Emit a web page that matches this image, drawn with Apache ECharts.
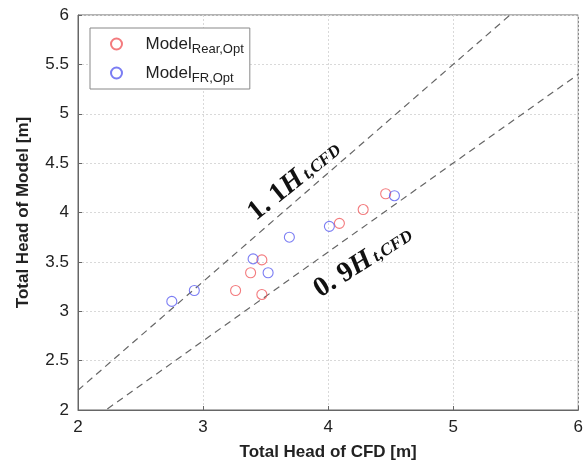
<!DOCTYPE html>
<html>
<head>
<meta charset="utf-8">
<script src="https://cdn.jsdelivr.net/npm/echarts@6/dist/echarts.min.js"></script>
<style>
  html, body { margin: 0; padding: 0; background: #fff; }
  #chart { width: 586px; height: 470px; }
</style>
</head>
<body>
<div id="chart"></div>
<script>
// Total head: CFD prediction (x) vs. model (y)
const rearOpt = [
  [3.26, 3.21], [3.47, 3.17], [3.38, 3.39], [3.47, 3.52],
  [4.09, 3.89], [4.28, 4.03], [4.46, 4.19]
];
const frOpt = [
  [2.75, 3.10], [2.93, 3.21], [3.40, 3.53], [3.52, 3.39],
  [3.69, 3.75], [4.01, 3.86], [4.53, 4.17]
];
// ±10 % reference lines (H_model = 1.1 H_CFD and 0.9 H_CFD)
const upperBand = [[2, 2.2], [6, 6.6]];
const lowerBand = [[2, 1.8], [6, 5.4]];
const seriesNames = ['Rear,Opt', 'FR,Opt'];
const axisMin = 2, axisMax = 6;

const RED = '#f05a5e';
const BLUE = '#5a5cf0';
const LINE = '#666';

const chart = echarts.init(document.getElementById('chart'), null, { renderer: 'canvas' });

const axisCommon = {
  min: axisMin,
  max: axisMax,
  axisLine: { show: true, onZero: false, lineStyle: { color: LINE, width: 1 } },
  axisTick: { show: true, inside: true, length: 4, lineStyle: { color: LINE } },
  splitLine: { show: true, lineStyle: { color: '#d9d9d9', type: [2, 2], width: 1 } },
  axisLabel: { color: '#222', fontSize: 17, fontFamily: 'Liberation Sans, Arial, sans-serif' },
  nameLocation: 'middle',
  nameTextStyle: { color: '#222', fontSize: 17, fontWeight: 'bold', fontFamily: 'Liberation Sans, Arial, sans-serif' }
};

function scatter(name, data, color) {
  return {
    type: 'scatter',
    name: name,
    data: data,
    symbol: 'circle',
    symbolSize: 10,
    itemStyle: { color: 'rgba(255,255,255,0)', borderColor: color, borderWidth: 1.1 },
    z: 5
  };
}

function band(data) {
  return {
    type: 'line',
    data: data,
    showSymbol: false,
    symbol: 'none',
    clip: true,
    silent: true,
    lineStyle: { color: LINE, width: 1.2, type: [7, 5] },
    z: 3
  };
}

chart.setOption({
  animation: false,
  backgroundColor: '#fff',
  grid: { left: 78, right: 6, top: 15, bottom: 60, show: true, borderColor: LINE, borderWidth: 1 },
  xAxis: Object.assign({}, axisCommon, {
    type: 'value', interval: 1, name: 'Total Head of CFD [m]', nameGap: 34,
    axisLabel: Object.assign({}, axisCommon.axisLabel, { margin: 9 })
  }),
  yAxis: Object.assign({}, axisCommon, {
    type: 'value', interval: 0.5, name: 'Total Head of Model [m]', nameGap: 46,
    axisLabel: Object.assign({}, axisCommon.axisLabel, { margin: 9 })
  }),
  legend: {
    data: seriesNames,
    orient: 'vertical',
    left: 90,
    top: 28,
    backgroundColor: '#fff',
    borderColor: '#888',
    borderWidth: 1,
    borderRadius: 0,
    padding: [4, 6, 4, 20],
    itemGap: 5,
    itemWidth: 14,
    itemHeight: 11,
    formatter: function (n) { return '{m|Model}{s|' + n + '}'; },
    textStyle: {
      color: '#222',
      fontFamily: 'Liberation Sans, Arial, sans-serif',
      rich: {
        m: { fontSize: 17, lineHeight: 20, padding: [0, 0, 0, 17] },
        s: { fontSize: 13, lineHeight: 20, padding: [11, 0, 0, 0] }
      }
    }
  },
  series: [
    band(upperBand),
    band(lowerBand),
    scatter(seriesNames[0], rearOpt, RED),
    scatter(seriesNames[1], frOpt, BLUE)
  ]
});

// Rotated labels for the two reference lines
function bandLabel(coord, slope, lead, tilt) {
  const p = chart.convertToPixel({ gridIndex: 0 }, coord);
  const p0 = chart.convertToPixel({ gridIndex: 0 }, [3, 3 * slope]);
  const p1 = chart.convertToPixel({ gridIndex: 0 }, [4, 4 * slope]);
  const ang = Math.atan2(p0[1] - p1[1], p1[0] - p0[0]) - tilt * Math.PI / 180;
  const serif = 'Liberation Serif, Times New Roman, serif';
  return {
    type: 'text',
    x: p[0],
    y: p[1],
    rotation: ang,
    z: 10,
    style: {
      text: '{a|' + lead + '}{h|H}{s|t,CFD}',
      align: 'center',
      verticalAlign: 'middle',
      fill: '#111',
      rich: {
        a: { fontFamily: serif, fontWeight: 'bold', fontSize: 28, lineHeight: 30, fill: '#111' },
        h: { fontFamily: serif, fontWeight: 'bold', fontStyle: 'italic', fontSize: 28, lineHeight: 30, fill: '#111' },
        s: { fontFamily: serif, fontWeight: 'bold', fontStyle: 'italic', fontSize: 17, lineHeight: 30, padding: [6, 0, 0, 3], fill: '#111' }
      }
    }
  };
}

chart.setOption({
  graphic: [
    bandLabel([3.73, 4.32], 1.1, '1. 1', 2),
    bandLabel([4.28, 3.50], 0.9, '0. 9', 3)
  ]
});
</script>
</body>
</html>
